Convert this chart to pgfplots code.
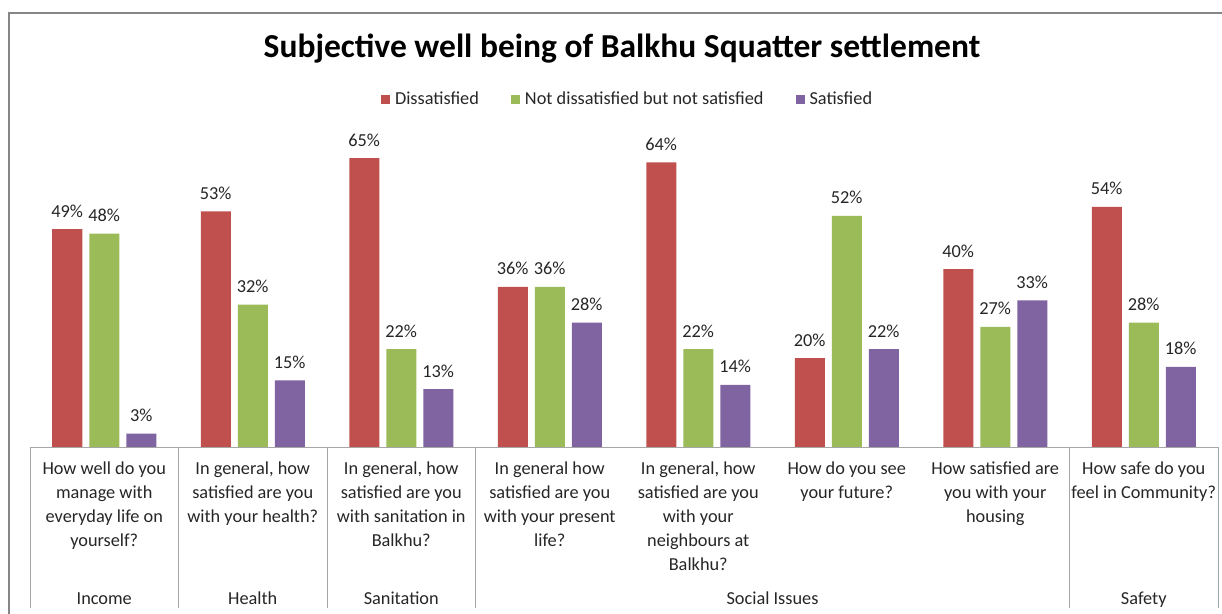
\documentclass[border=0pt]{standalone}
\usepackage{pgfplots}
\pgfplotsset{compat=1.18}
\usepackage{fontspec}
\setmainfont{Carlito}
\definecolor{cred}{HTML}{C0504D}
\definecolor{cgreen}{HTML}{9BBB59}
\definecolor{cpurple}{HTML}{8064A2}
\definecolor{cgrid}{HTML}{A6A6A6}
\definecolor{cframe}{HTML}{868686}
\pgfplotstableread{
x dis neu sat
0 49 48 3
1 53 32 15
2 65 22 13
3 36 36 28
4 64 22 14
5 20 52 22
6 40 27 33
7 54 28 18
}\datatable
\begin{document}
\begin{tikzpicture}
\useasboundingbox (-30pt,-166pt) rectangle (1192pt,447pt);
\draw[cframe, line width=1.5pt] (-21pt,-170pt) -- (-21pt,434pt) -- (1200pt,434pt);
\begin{axis}[
  at={(0pt,0pt)}, anchor=south west,
  scale only axis,
  width=1188pt, height=311.2pt,
  xmin=-0.5, xmax=7.5, ymin=0, ymax=70,
  axis line style={draw=none},
  ytick=\empty,
  xtick={0,...,7},
  major tick length=0pt,
  /pgf/number format/assume math mode=true,
  xticklabels={
    {How well do you\\manage with\\everyday life on\\yourself?},
    {In general, how\\satisfied are you\\with your health?},
    {In general, how\\satisfied are you\\with sanitation in\\Balkhu?},
    {In general how\\satisfied are you\\with your present\\life?},
    {In general, how\\satisfied are you\\with your\\neighbours at\\Balkhu?},
    {How do you see\\your future?},
    {How satisfied are\\you with your\\housing},
    {How safe do you\\feel in Community?}},
  xticklabel style={align=center, anchor=north, yshift=-11pt,
    font=\fontsize{18.3pt}{24pt}\selectfont, text=black!85},
  ybar, bar width=30pt,
  clip=false,
  nodes near coords={\pgfmathprintnumber{\pgfplotspointmeta}\%},
  every node near coord/.append style={font=\fontsize{18.3pt}{22pt}\selectfont, text=black!85, anchor=base, yshift=12pt},
  legend columns=3,
  legend style={at={(0.503,1.118)}, anchor=center, draw=none, fill=none,
    font=\fontsize{18.3pt}{22pt}\selectfont, text=black!85,
    /tikz/every even column/.append style={column sep=30pt},
    inner sep=0pt},
  legend image code/.code={\fill[#1] (0pt,-4.5pt) rectangle (9pt,4.5pt); \path (12pt,0pt);},
]
\addplot[fill=cred, draw=none, bar shift=-37pt] table[x=x,y=dis] {\datatable};
\addplot[fill=cgreen, draw=none, bar shift=0pt] table[x=x,y=neu] {\datatable};
\addplot[fill=cpurple, draw=none, bar shift=37pt] table[x=x,y=sat] {\datatable};
\legend{Dissatisfied, Not dissatisfied but not satisfied, Satisfied}
\draw[cgrid, line width=1pt] (axis cs:-0.5,0) -- (axis cs:7.5,0);
\draw[cgrid, line width=1pt] (axis cs:-0.5,0) -- ++(0pt,-161pt);
\draw[cgrid, line width=1pt] (axis cs:0.5,0) -- ++(0pt,-161pt);
\draw[cgrid, line width=1pt] (axis cs:1.5,0) -- ++(0pt,-161pt);
\draw[cgrid, line width=1pt] (axis cs:2.5,0) -- ++(0pt,-161pt);
\draw[cgrid, line width=1pt] (axis cs:6.5,0) -- ++(0pt,-161pt);
\draw[cgrid, line width=1pt] (axis cs:7.5,0) -- ++(0pt,-161pt);
\node[font=\fontsize{18.3pt}{22pt}\selectfont, text=black!85, anchor=base] at ([yshift=-157pt]axis cs:0,0) {Income};
\node[font=\fontsize{18.3pt}{22pt}\selectfont, text=black!85, anchor=base] at ([yshift=-157pt]axis cs:1,0) {Health};
\node[font=\fontsize{18.3pt}{22pt}\selectfont, text=black!85, anchor=base] at ([yshift=-157pt]axis cs:2,0) {Sanitation};
\node[font=\fontsize{18.3pt}{22pt}\selectfont, text=black!85, anchor=base] at ([yshift=-157pt]axis cs:4.5,0) {Social Issues};
\node[font=\fontsize{18.3pt}{22pt}\selectfont, text=black!85, anchor=base] at ([yshift=-157pt]axis cs:7,0) {Safety};
\end{axis}
\node[font=\fontsize{33.5pt}{40pt}\selectfont\bfseries] at (592pt,398pt) {Subjective well being of Balkhu Squatter settlement};
\end{tikzpicture}
\end{document}
